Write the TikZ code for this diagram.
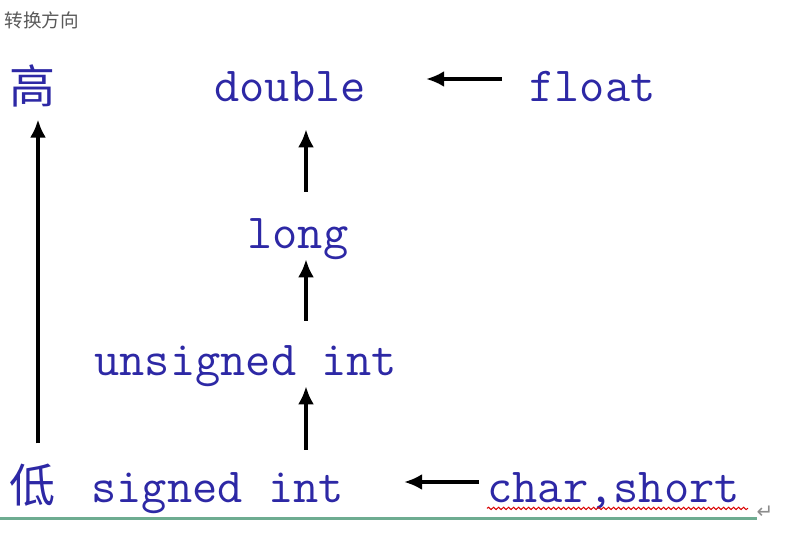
\documentclass[tikz,border=0pt]{standalone}
\usepackage{fontspec}
\newfontfamily\cjk{Noto Sans CJK SC}
\newfontfamily\symfont{DejaVu Sans}
\usetikzlibrary{arrows.meta,decorations.pathmorphing}
\definecolor{typeblue}{RGB}{45,40,165}
\definecolor{rulegreen}{RGB}{110,172,145}

\begin{document}
\begin{tikzpicture}[x=0.5pt, y=-0.5pt, >={Latex[length=9pt,width=8pt]}]
  \tikzset{
    typename/.style={inner sep=0, anchor=base west, text=typeblue, font=\ttfamily\fontsize{24.5}{24.5}\selectfont, text height=15pt, text depth=5pt},
    level/.style={inner sep=0, text=typeblue, font=\cjk\fontsize{23}{23}\selectfont},
    conv/.style={->, line width=1.6pt}
  }
  \useasboundingbox (0,0) rectangle (794,534);
  \node[anchor=west, inner sep=0, text=black!65, font=\cjk\fontsize{9.3}{9.3}\selectfont] (title) at (4,20) {转换方向};
  % type names
  \node[typename] (double) at (214,102) {double};
  \node[typename] (float) at (529,102) {float};
  \node[typename] (long) at (247,249) {long};
  \node[typename] (unsigned) at (94,376) {unsigned int};
  \node[typename] (signed) at (91,503) {signed int};
  \node[typename] (charshort) at (487,503) {char,short};
  \node[level] (high) at (33,86) {高};
  \node[level] (low) at (33,485) {低};
  \coordinate (upline) at (306,0);
  \coordinate (axis) at (38,0);
  % conversions
  \draw[conv, shorten <=13.5pt, shorten >=8.5pt] (upline |- long.north) -- (upline |- double.south);
  \draw[conv, shorten <=12.5pt] (upline |- unsigned.north) -- (upline |- long.south);
  \draw[conv, shorten <=11.5pt] (upline |- signed.north) -- (upline |- unsigned.south);
  \draw[conv, shorten <=13.5pt, shorten >=30pt] ([yshift=6.5pt]float.west) -- ([yshift=6.5pt]double.east);
  \draw[conv, shorten <=4pt, shorten >=30pt] ([yshift=5.5pt]charshort.west) -- ([yshift=5.5pt]signed.east);
  \draw[conv, shorten <=10pt, shorten >=6pt] (axis |- low.north) -- (axis |- high.south);
  % editor marks
  \draw[red!85!black, line width=0.5pt, decorate, decoration={snake, amplitude=0.6pt, segment length=2.5pt}] ([yshift=2.5pt]charshort.south west) -- ([xshift=4pt,yshift=2.5pt]charshort.south east);
  \node[text=black!45, font=\symfont\fontsize{10}{10}\selectfont, inner sep=0] (ret) at (765,512) {↵};
  \draw[rulegreen, line width=1.5pt] (0,519) -- (757,519);
\end{tikzpicture}
\end{document}
